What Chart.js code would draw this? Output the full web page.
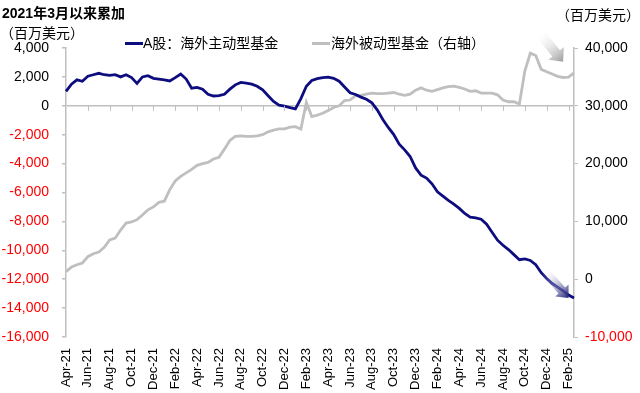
<!DOCTYPE html>
<html>
<head>
<meta charset="utf-8">
<script src="https://cdn.jsdelivr.net/npm/chart.js@4.4.1/dist/chart.umd.min.js"></script>
<style>
  html, body { margin: 0; padding: 0; background: #fff; }
  #wrap { position: relative; width: 640px; height: 393px; font-family: Arial, "Liberation Sans", "Noto Sans CJK SC", sans-serif; color: #000; }
  #chart { position: absolute; left: 0; top: 0; }
  .txt { position: absolute; font-size: 14px; line-height: 16px; white-space: nowrap; }
  .key { position: absolute; height: 3px; width: 18px; }
</style>
</head>
<body>
<div id="wrap">
  <canvas id="chart" width="640" height="393"></canvas>
  <div class="txt" style="left:2px; top:5px; font-weight:bold;">2021年3月以来累加</div>
  <div class="txt" style="left:0px; top:25px;">（百万美元）</div>
  <div class="txt" style="right:0px; top:7px;">（百万美元）</div>
  <div class="key" style="left:125px; top:42px; background:#0d0d80;"></div>
  <div class="txt" style="left:143px; top:35px;">A股：海外主动型基金</div>
  <div class="key" style="left:312px; top:42px; background:#bfbfbf;"></div>
  <div class="txt" style="left:331px; top:35px;">海外被动型基金（右轴）</div>
</div>
<script>
// half-month periods, Apr-21 .. Feb-25
const monthNames = ['Jan','Feb','Mar','Apr','May','Jun','Jul','Aug','Sep','Oct','Nov','Dec'];
const periods = [];
for (let i = 0; i < 94; i++) {
  const m = 3 + Math.floor(i / 2);
  const label = monthNames[m % 12] + '-' + (21 + Math.floor(m / 12));
  periods.push(i % 2 === 0 ? label : label + ' H2');
}

const tickLabels = ['Apr-21','Jun-21','Aug-21','Oct-21','Dec-21','Feb-22','Apr-22','Jun-22',
  'Aug-22','Oct-22','Dec-22','Feb-23','Apr-23','Jun-23','Aug-23','Oct-23','Dec-23','Feb-24',
  'Apr-24','Jun-24','Aug-24','Oct-24','Dec-24','Feb-25'];

// A股：海外主动型基金 (left axis, USD mn)
const activeFunds = [1000,1500,1800,1700,2050,2150,2250,2150,2100,2150,
  2000,2150,1950,1550,2000,2080,1900,1850,1800,1720,
  1950,2200,1850,1220,1270,1150,800,680,700,800,
  1150,1450,1620,1570,1500,1350,1100,700,300,50,
  -30,-120,-210,500,1350,1750,1880,1950,1980,1900,
  1700,1300,900,780,600,450,200,-300,-950,-1500,
  -1990,-2650,-3050,-3510,-4300,-4800,-5000,-5400,-5950,-6250,
  -6550,-6800,-7100,-7450,-7700,-7750,-7850,-8200,-8750,-9300,
  -9650,-9950,-10300,-10650,-10600,-10700,-11000,-11550,-11950,-12300,
  -12550,-12800,-13100,-13300];

// 海外被动型基金 (right axis, USD mn)
const passiveFunds = [1300,2100,2500,2800,3900,4400,4700,5500,6800,7100,
  8500,9700,9900,10300,11100,12000,12500,13300,13500,15500,
  17000,17800,18400,19000,19700,20000,20200,20800,21100,22500,
  24000,24700,24800,24700,24700,24800,25000,25500,25800,26000,
  26000,26300,26400,26000,30600,28150,28400,28700,29200,29700,
  30000,30900,31000,31700,31800,32000,32200,32100,32100,32200,
  32300,32000,31800,32000,32700,33100,32700,32500,32800,33100,
  33300,33400,33200,32900,32500,32600,32200,32200,32200,31900,
  31000,30700,30700,30300,36000,39100,38700,36300,35900,35500,
  35100,34900,34950,35700];

const NAVY = '#0d0d80';
const GREY = '#bfbfbf';
const FONT = 'Arial, "Liberation Sans", sans-serif';

function drawArrow(ctx, x1, y1, x2, y2, color, sw, hw, hl) {
  const ang = Math.atan2(y2 - y1, x2 - x1);
  const len = Math.hypot(x2 - x1, y2 - y1);
  ctx.save();
  ctx.translate(x1, y1);
  ctx.rotate(ang);
  const g = ctx.createLinearGradient(0, 0, len, 0);
  g.addColorStop(0, 'rgba(255,255,255,0)');
  g.addColorStop(1, color);
  ctx.fillStyle = g;
  ctx.beginPath();
  ctx.moveTo(0, -sw);
  ctx.lineTo(len - hl, -sw);
  ctx.lineTo(len - hl, -hw);
  ctx.lineTo(len, 0);
  ctx.lineTo(len - hl, hw);
  ctx.lineTo(len - hl, sw);
  ctx.lineTo(0, sw);
  ctx.closePath();
  ctx.fill();
  ctx.restore();
}

// tick marks on the zero line + trend arrows
const extras = {
  id: 'extras',
  afterDatasetsDraw(chart) {
    const { ctx, scales } = chart;
    const x = scales.x, y = scales.y, y2 = scales.y2;
    const y0 = y.getPixelForValue(0);
    ctx.save();
    ctx.strokeStyle = GREY;
    ctx.lineWidth = 1;
    for (let i = 4; i < periods.length; i += 4) {
      const px = Math.round(x.getPixelForValue(i)) + 0.5;
      ctx.beginPath();
      ctx.moveTo(px, y0);
      ctx.lineTo(px, y0 + 5);
      ctx.stroke();
    }
    ctx.restore();
    drawArrow(ctx, x.getPixelForValue(86.5), y2.getPixelForValue(42800),
      x.getPixelForValue(91), y2.getPixelForValue(37600), '#9a9a9a', 5, 10, 11);
    drawArrow(ctx, x.getPixelForValue(87.5), y.getPixelForValue(-11400),
      x.getPixelForValue(92), y.getPixelForValue(-13300), '#1f1f78', 4.5, 9, 10);
  }
};

new Chart(document.getElementById('chart'), {
  type: 'line',
  data: {
    labels: periods,
    datasets: [
      { data: activeFunds, yAxisID: 'y', borderColor: NAVY, borderWidth: 2.8, pointRadius: 0, tension: 0 },
      { data: passiveFunds, yAxisID: 'y2', borderColor: GREY, borderWidth: 2.8, pointRadius: 0, tension: 0 }
    ]
  },
  options: {
    responsive: false,
    animation: false,
    devicePixelRatio: 1,
    layout: { padding: { top: 48, left: 0, right: 0, bottom: 0 } },
    plugins: { legend: { display: false }, tooltip: { enabled: false } },
    scales: {
      x: {
        type: 'category',
        offset: false,
        grid: { display: false, drawTicks: false },
        border: { display: false },
        ticks: {
          autoSkip: false, maxRotation: 90, minRotation: 90, padding: 11,
          color: '#000', font: { family: FONT, size: 13 },
          callback: (v, i) => (i % 4 === 0 ? tickLabels[i / 4] : '')
        },
        afterFit: s => { s.height = 56; }
      },
      y: {
        position: 'left',
        min: -16000, max: 4000,
        ticks: {
          stepSize: 2000, padding: 13,
          color: c => (c.tick.value < 0 ? '#ff0000' : '#000'),
          font: { family: FONT, size: 14 },
          callback: v => v.toLocaleString('en-US')
        },
        grid: {
          color: c => (c.tick.value === 0 ? GREY : 'rgba(0,0,0,0)'),
          lineWidth: 1.5, tickLength: 4, tickColor: GREY
        },
        border: { color: GREY, width: 1.5 },
        afterFit: s => { s.width = 66; }
      },
      y2: {
        position: 'right',
        min: -10000, max: 40000,
        ticks: {
          stepSize: 10000, padding: 7,
          color: c => (c.tick.value < 0 ? '#ff0000' : '#000'),
          font: { family: FONT, size: 14 },
          callback: v => v.toLocaleString('en-US')
        },
        grid: { drawOnChartArea: false, tickLength: 4, tickColor: GREY },
        border: { color: GREY, width: 1.5 },
        afterFit: s => { s.width = 66; }
      }
    }
  },
  plugins: [extras]
});
</script>
</body>
</html>
